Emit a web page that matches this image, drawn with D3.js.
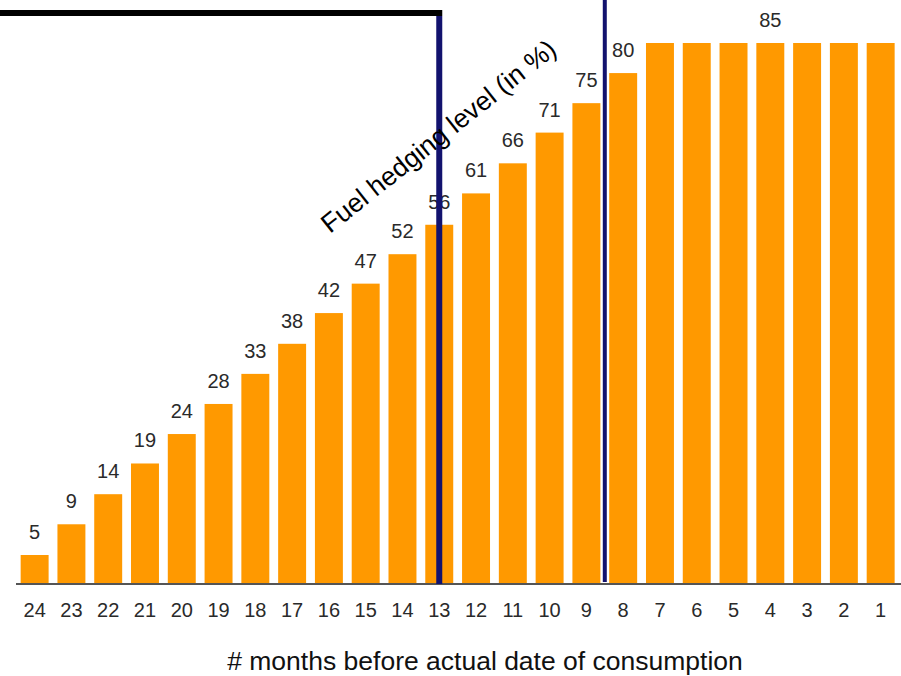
<!DOCTYPE html>
<html><head><meta charset="utf-8">
<script src="https://cdn.jsdelivr.net/npm/d3@7"></script>
<style>body{margin:0;background:#fff}svg{display:block}</style>
</head><body>
<script>
const months = [24,23,22,21,20,19,18,17,16,15,14,13,12,11,10,9,8,7,6,5,4,3,2,1];
const values = [5,9.8,14.5,19.3,23.9,28.6,33.3,38.0,42.8,47.4,52.0,56.6,61.5,66.2,71.0,75.6,80.3,85,85,85,85,85,85,85];
const valueLabels = ["5","9","14","19","24","28","33","38","42","47","52","56","61","66","71","75","80","","","","85","","",""];
const axisTitle = "# months before actual date of consumption";
const sideTitle = "Fuel hedging level (in %)";

const W = 901, H = 676;
const FONT = "Liberation Sans, Arial, sans-serif";
const svg = d3.select("body").append("svg").attr("width", W).attr("height", H);

const x = d3.scaleBand().domain(months).range([13.3, 902.0]).paddingInner(0.24).paddingOuter(0.2);
const y = d3.scaleLinear().domain([0, 85]).range([587, 43]);
const baseY = 584;

svg.selectAll("rect.bar").data(values).join("rect")
  .attr("class","bar")
  .attr("x", (d,i)=>x(months[i]))
  .attr("width", x.bandwidth())
  .attr("y", d=>y(d))
  .attr("height", d=>baseY - y(d))
  .attr("fill", "#ff9900");

svg.selectAll("text.val").data(values).join("text")
  .attr("class","val")
  .attr("x", (d,i)=>x(months[i]) + x.bandwidth()/2)
  .attr("y", d=>y(d) - 16)
  .attr("text-anchor","middle")
  .attr("font-family",FONT)
  .attr("font-size", 20)
  .attr("fill","#2a2a2a")
  .text((d,i)=>valueLabels[i]);

const ax = svg.append("g").attr("transform", `translate(0,${baseY})`)
  .call(d3.axisBottom(x).tickSize(0).tickPadding(19));
ax.select(".domain").attr("d", "M16,0H901").attr("stroke","#555").attr("stroke-width",2);
ax.selectAll("text").attr("font-family",FONT)
  .attr("font-size",20).attr("fill","#2a2a2a");

svg.append("text").attr("x", 485).attr("y", 670).attr("text-anchor","middle")
  .attr("font-family",FONT).attr("font-size",26.5)
  .attr("fill","#111").text(axisTitle);

const x13 = x(13) + x.bandwidth()/2;
const x98 = (x(9) + x.bandwidth() + x(8)) / 2;
svg.append("rect").attr("x", 0).attr("y", 10).attr("width", x13 + 3).attr("height", 6).attr("fill", "#000");
svg.append("rect").attr("x", x13 - 3).attr("y", 16).attr("width", 6).attr("height", baseY - 16).attr("fill", "#12126e");
svg.append("rect").attr("x", x98 - 3).attr("y", 0).attr("width", 6).attr("height", baseY - 2).attr("fill", "#fff");
svg.append("rect").attr("x", x98 - 2).attr("y", 0).attr("width", 4).attr("height", baseY - 2).attr("fill", "#12126e");

svg.append("text").attr("transform", "translate(330,234) rotate(-38.5)")
  .attr("font-family",FONT).attr("font-size",26.5)
  .attr("fill","#000").text(sideTitle);
</script>
</body></html>
